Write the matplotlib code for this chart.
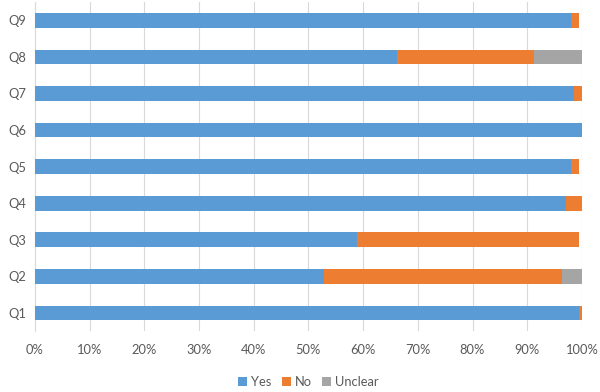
import matplotlib.pyplot as plt
import numpy as np

plt.rcParams['font.family'] = ['Lato', 'DejaVu Sans']

questions = ["Q1", "Q2", "Q3", "Q4", "Q5", "Q6", "Q7", "Q8", "Q9"]
yes = [99.5, 52.8, 58.9, 97.1, 97.9, 100.0, 98.5, 66.2, 97.9]
no = [0.5, 43.6, 40.5, 2.9, 1.5, 0.0, 1.5, 25.1, 1.5]
unclear = [0.0, 3.6, 0.0, 0.0, 0.0, 0.0, 0.0, 8.7, 0.0]

blue = "#5B9BD5"
orange = "#ED7D31"
grey = "#A5A5A5"

fig = plt.figure(figsize=(6, 3.92), dpi=100)
ax = fig.add_axes([0.058, 0.155, 0.912, 0.84])

y = np.arange(len(questions))
yes = np.array(yes)
no = np.array(no)
unclear = np.array(unclear)

ax.barh(y, yes, height=0.4, color=blue, label="Yes", zorder=3)
ax.barh(y, no, height=0.4, left=yes, color=orange, label="No", zorder=3)
ax.barh(y, unclear, height=0.4, left=yes + no, color=grey, label="Unclear", zorder=3)

ax.set_xlim(0, 100)
ax.set_ylim(-0.5, 8.5)
ax.set_xticks(np.arange(0, 101, 10))
ax.set_xticklabels([f"{v}%" for v in range(0, 101, 10)])
ax.set_yticks(y)
ax.set_yticklabels(questions)

ax.grid(axis="x", color="#d9d9d9", linewidth=0.8, zorder=0)
for s in ["top", "right", "bottom"]:
    ax.spines[s].set_visible(False)
ax.spines["left"].set_color("#d9d9d9")
ax.tick_params(axis="both", length=0, labelsize=9.3, labelcolor="#595959")
ax.tick_params(axis="x", pad=9)
ax.tick_params(axis="y", pad=6)

ax.legend(loc="upper center", bbox_to_anchor=(0.5, -0.1), ncol=3, frameon=False,
          fontsize=9.3, labelcolor="#595959", handlelength=0.7, handleheight=0.7,
          handletextpad=0.3, columnspacing=0.8)

fig.savefig("out.png", dpi=100)
